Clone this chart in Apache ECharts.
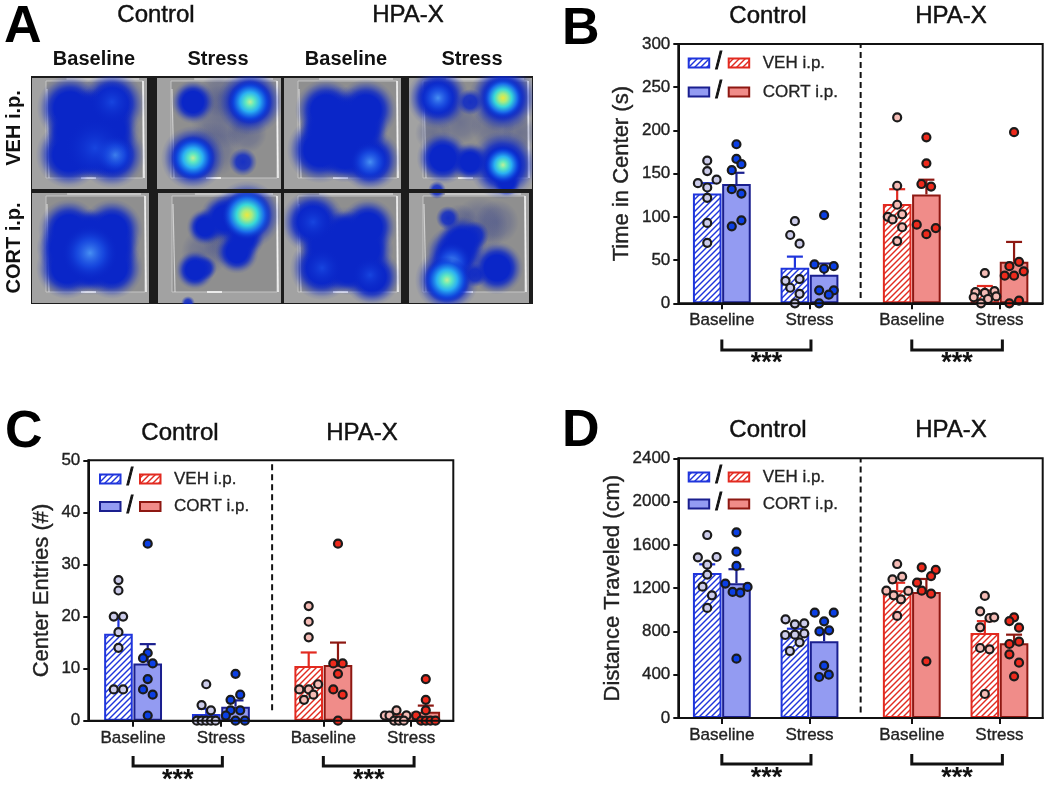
<!DOCTYPE html>
<html><head><meta charset="utf-8">
<script src="https://cdn.jsdelivr.net/npm/echarts@6/dist/echarts.min.js"></script>
<style>html,body{margin:0;padding:0;background:#fff}#c{width:1050px;height:787px}</style>
</head><body><div id="c"></div>
<script>
const groupNames = ['Control VEH Baseline','Control CORT Baseline','Control VEH Stress','Control CORT Stress','HPA-X VEH Baseline','HPA-X CORT Baseline','HPA-X VEH Stress','HPA-X CORT Stress'];
const barSlots = [0,1,3,4,6.5,7.5,9.5,10.5];
const tickSlots = [0.5,3.5,7,10];
const tickLabels = ['Baseline','Stress','Baseline','Stress'];

// Time in Center
const bMeans = [127,138,41,33,115,126,16,48];
const bTops  = [139,151,54,46,132,143,20,71];
const bValues = [
 [165,153,139,143,134,122,93,70],
 [184,167,161,154,132,127,96,89],
 [95,79,69,26,28,18,11,0],
 [102,45,40,43,15,15,10,0],
 [215,136,114,100,97,103,88,72],
 [192,162,138,135,91,87,80],
 [35,13,12,14,7,8,5,0],
 [198,43,48,32,32,37,0,3]];
const bSwarm = [
 [0,0,-.32,.32,0,0,0,0],
 [0,0,.17,-.16,-.16,.17,.17,-.16],
 [0,-.16,.16,-.32,.16,-.16,.16,0],
 [0,-.33,0,.33,-.17,.33,.16,-.17],
 [0,0,0,-.32,-.16,.17,.17,0],
 [0,0,-.17,.16,-.33,.32,0],
 [0,-.32,0,.33,-.38,.39,.11,-.13],
 [0,-.16,.17,-.32,0,.33,-.16,.17]];

// Center Entries
const cMeans = [16.7,11,1.3,2.7,10.5,10.7,0.9,1.7];
const cTops  = [20,14.7,2.3,3.9,13.1,15,1.2,2.9];
const cValues = [
 [27,25,20,20,17,14,6,6],
 [34,13,12,11,8,6,5,1],
 [7,3,2,0,0,0,0,0],
 [9,5,4,2,2,1,0,0],
 [22,19,16,7,6,6,5,4],
 [34,11,11,9,6,5,0],
 [2,1,1,1,1,0,0,0],
 [8,4,2,1,0,0,0,0]];
const cSwarm = [
 [0,0,-.16,.16,0,0,-.16,.16],
 [0,0,-.16,.17,0,-.16,.17,0],
 [0,-.16,.16,-.32,-.16,0,.16,.32],
 [0,.16,-.17,-.17,.16,-.33,0,.32],
 [0,0,0,.32,-.32,0,.16,-.16],
 [0,-.16,.16,0,-.16,.16,0],
 [0,-.4,-.24,.34,.34,-.08,.08,.25],
 [0,0,0,-.33,-.16,0,.16,.33]];

// Distance Traveled
const dMeans = [1340,1245,790,710,1180,1165,785,690];
const dTops  = [1420,1375,825,805,1250,1285,895,770];
const dValues = [
 [1691,1485,1488,1417,1325,1214,1134,1017],
 [1716,1537,1405,1242,1211,1165,1158,548],
 [912,866,875,767,770,782,699,619],
 [973,973,893,801,810,484,400,379],
 [1423,1282,1306,1177,1174,1134,1097,943],
 [1392,1368,1312,1251,1177,1149,524],
 [1128,986,924,930,838,647,635,222],
 [930,896,835,705,684,588,511,385]];
const dSwarm = [
 [0,-.32,.32,0,0,-.16,.16,0],
 [0,0,0,-.38,.38,-.13,.13,0],
 [-.32,0,.32,-.33,0,.32,.16,-.17],
 [-.32,.33,0,-.16,.17,0,.16,-.17],
 [0,-.16,.17,-.37,.38,-.12,.13,0],
 [-.16,.32,.16,-.32,-.16,.16,0],
 [0,-.16,.16,.32,-.16,-.16,.16,0],
 [0,-.16,.17,.17,-.16,-.16,.17,0]];

// Panel A: heat-map photographs, blobs as [x, y, radius, kind]
const tiles = [
 [32,78,147,189],[157,78,281,189],[284,78,401,189],[409,78,532,189],
 [32,193,149,303],[158,193,281,303],[284,193,401,303],[409,193,529,303]];
const blobs = [
 [70,108,29,'b'],[112,104,29,'b'],[69,155,29,'b'],[112,155,29,'b'],[90,132,38,'b'],[90,112,20,'b'],[90,153,24,'b'],[70,132,22,'b'],[111,130,25,'b'],[112,102,22,'l'],[115,155,20,'m'],[95,148,30,'l'],
 [193,102,19,'b'],[250,102,29,'b'],[250,102,22,'h'],[193,158,28,'b'],[193,158,22,'h'],[243,162,14,'f'],[247,133,20,'g'],[222,117,32,'g'],[212,150,28,'g'],[220,95,22,'g'],
 [326,110,27,'b'],[366,110,27,'b'],[320,150,29,'b'],[370,160,27,'b'],[343,130,38,'b'],[345,116,19,'b'],[345,155,24,'b'],[324,130,21,'b'],[363,130,22,'b'],[370,162,20,'m'],
 [438,98,27,'b'],[438,98,19,'m'],[503,98,30,'b'],[503,98,21,'y'],[470,102,13,'f'],[443,158,23,'b'],[503,165,30,'b'],[503,165,19,'h'],[470,162,17,'b'],[507,183,12,'b'],[437,190,9,'f'],[460,122,22,'g'],[493,127,22,'g'],[520,133,18,'g'],[433,133,18,'g'],
 [69,230,27,'b'],[112,230,27,'b'],[67,268,27,'b'],[112,268,27,'b'],[90,252,38,'b'],[90,232,20,'b'],[90,270,19,'b'],[64,248,24,'b'],[113,248,24,'b'],[90,253,28,'m'],
 [247,215,30,'b'],[225,218,22,'b'],[247,215,25,'y'],[238,216,17,'l'],[205,227,16,'b'],[237,252,19,'b'],[244,238,18,'b'],[195,270,17,'b'],[205,268,12,'f'],[225,242,22,'g'],[205,252,24,'g'],[215,225,20,'g'],
 [313,222,28,'b'],[313,222,20,'l'],[368,227,25,'b'],[322,268,28,'b'],[372,277,25,'b'],[345,248,36,'b'],[345,232,19,'b'],[348,270,22,'b'],[324,245,21,'b'],[366,250,24,'b'],[322,268,20,'l'],[370,275,18,'l'],
 [447,280,28,'b'],[455,255,26,'b'],[462,242,22,'b'],[475,235,14,'f'],[452,262,20,'m'],[447,280,23,'h'],[497,268,23,'b'],[475,275,12,'f'],[448,218,12,'f'],[480,225,28,'g'],[497,222,22,'g'],[460,222,18,'g'],
 [188,303,7,'f']];

const NAVY='#1a1f8f', BLUE='#1f35dc', RED='#e22a20', DRED='#8e1812';
const BLUEFILL='#939bf2', REDFILL='#f08c89';

function hatch(col){
  const n=6, k=document.createElement('canvas'); k.width=k.height=n;
  const g=k.getContext('2d'); g.fillStyle='#fff'; g.fillRect(0,0,n,n);
  g.strokeStyle=col; g.lineWidth=1.4;
  [[-n,n,n,-n],[0,n,n,0],[0,2*n,2*n,0]].forEach(s=>{g.beginPath();g.moveTo(s[0],s[1]);g.lineTo(s[2],s[3]);g.stroke();});
  return {image:k,repeat:'repeat'};
}
const BH=hatch(BLUE), RH=hatch(RED);
const styles=[
 {name:'Control VEH i.p.',idx:[0,2],fill:BH,line:BLUE,dot:'#ccccea'},
 {name:'Control CORT i.p.',idx:[1,3],fill:BLUEFILL,line:NAVY,dot:'#0b3fe4'},
 {name:'HPA-X VEH i.p.',idx:[4,6],fill:RH,line:RED,dot:'#f5bcb6'},
 {name:'HPA-X CORT i.p.',idx:[5,7],fill:REDFILL,line:DRED,dot:'#ee2a1c'}];

const grids=[
 {left:0,top:0,width:540,height:320},
 {left:678.3,top:44,width:364.4,height:259.3},
 {left:88.3,top:460.3,width:365,height:260.4},
 {left:678.3,top:458.3,width:364.4,height:259.7}];

const thick={textBorderColor:'#222',textBorderWidth:.35};
const xAxes=[{gridIndex:0,type:'value',min:0,max:540,show:false},
 ...[-.99,-1.03,-.99].map((m,i)=>({gridIndex:i+1,type:'value',min:m,max:m+12.47,splitLine:{show:false},
   axisLine:{onZero:false,lineStyle:{color:'#111',width:2}},
   axisTick:{show:true,customValues:tickSlots,length:6,lineStyle:{color:'#111',width:2}},
   axisLabel:Object.assign({show:true,customValues:tickSlots,formatter:v=>tickLabels[tickSlots.indexOf(v)],margin:9,fontSize:17,color:'#222',fontFamily:'Liberation Sans'},thick)}))];
const yConf=[['Time in Center (s)',300,50,45],['Center Entries (#)',50,10,35],['Distance Traveled (cm)',2400,400,54]];
const yAxes=[{gridIndex:0,type:'value',min:0,max:320,inverse:true,show:false},
 ...yConf.map((c,i)=>({gridIndex:i+1,type:'value',min:0,max:c[1],interval:c[2],name:c[0],nameLocation:'middle',nameGap:c[3],
   nameTextStyle:Object.assign({fontSize:22,color:'#222',fontFamily:'Liberation Sans'},thick),splitLine:{show:false},
   axisLine:{show:true,onZero:false,lineStyle:{color:'#111',width:2}},
   axisTick:{show:true,length:5,lineStyle:{color:'#111',width:2}},
   axisLabel:Object.assign({margin:8,fontSize:17,color:'#222',fontFamily:'Liberation Sans',formatter:v=>String(v)},thick)}))];

const series=[];
// panel A
series.push({type:'custom',name:'Arena photo',xAxisIndex:0,yAxisIndex:0,silent:true,z:1,data:tiles,encode:{x:[0,2],y:[1,3]},
 renderItem(p,api){
  const a=api.coord([api.value(0),api.value(1)]),b=api.coord([api.value(2),api.value(3)]);
  const w=b[0]-a[0],h=b[1]-a[1],l=a[0]+14,r=b[0]-4,t=a[1]+3,u=b[1]-11;
  return {type:'group',children:[
   {type:'rect',shape:{x:a[0],y:a[1],width:w,height:h},style:{fill:'#a2a2a2'}},
   {type:'rect',shape:{x:l,y:t,width:r-l,height:u-t},style:{fill:'#8f8f8f',stroke:'#c4c4c4',lineWidth:1}},
   {type:'line',shape:{x1:l+1,y1:t+8,x2:l+3,y2:u},style:{stroke:'#e4e4e4',lineWidth:1.2,opacity:.75}},
   {type:'line',shape:{x1:r,y1:t,x2:r+1,y2:u},style:{stroke:'#f2f2f2',lineWidth:1.6}},
   {type:'line',shape:{x1:a[0]+w*.3,y1:a[1]+1,x2:b[0]-8,y2:a[1]+1},style:{stroke:'#e8e8e8',lineWidth:1.2}},
   {type:'line',shape:{x1:l+35,y1:u,x2:l+50,y2:u},style:{stroke:'#ffffff',lineWidth:1.5}}
  ]};
 }});
const BC='10,38,200';
const stops={
 b:[[0,`rgba(${BC},1)`],[.48,`rgba(${BC},1)`],[.62,`rgba(${BC},.8)`],[.76,`rgba(${BC},.42)`],[.89,`rgba(${BC},.12)`],[1,`rgba(${BC},0)`]],
 m:[[0,'rgba(75,150,245,.95)'],[.5,'rgba(30,90,235,.6)'],[1,`rgba(${BC},0)`]],
 l:[[0,'rgba(30,85,235,.65)'],[1,`rgba(${BC},0)`]],
 f:[[0,`rgba(${BC},.9)`],[.5,`rgba(${BC},.8)`],[.78,`rgba(${BC},.3)`],[1,`rgba(${BC},0)`]],
 g:[[0,'rgba(35,50,140,.3)'],[.6,'rgba(35,50,140,.2)'],[1,'rgba(35,50,140,0)']],
 h:[[0,'#bff09a'],[.2,'#5fe8c0'],[.45,'#2ab0f2'],[.75,'rgba(15,75,225,.85)'],[1,`rgba(${BC},0)`]],
 y:[[0,'#eee83e'],[.2,'#a8ec80'],[.42,'#38d8d8'],[.68,'#1a6cea'],[1,`rgba(${BC},0)`]]};
Object.keys(stops).forEach(k=>{
 const grow=k==='b'?2.3:2;
 series.push({type:'scatter',name:'Heat '+k,xAxisIndex:0,yAxisIndex:0,silent:true,z:k==='g'?2:(k==='b'||k==='f'?3:4),clip:false,
  data:blobs.filter(o=>o[3]===k).map(o=>[o[0],o[1],o[2]]),
  symbolSize:v=>v[2]*grow,
  itemStyle:{opacity:1,color:{type:'radial',x:.5,y:.5,r:.5,colorStops:stops[k].map(s=>({offset:s[0],color:s[1]}))}}});
});

function panel(g,means,tops,vals,swarm,br,lineV){
 styles.forEach(s=>{
  series.push({type:'bar',name:s.name,stack:'bars'+g,xAxisIndex:g,yAxisIndex:g,barWidth:28.6,z:2,
   data:s.idx.map(i=>[barSlots[i],means[i]]),
   itemStyle:{color:s.fill,borderColor:s.line,borderWidth:2}});
  series.push({type:'custom',name:s.name+' SEM',xAxisIndex:g,yAxisIndex:g,z:3,
   data:s.idx.map(i=>[barSlots[i],means[i],tops[i]]),encode:{x:0,y:[1,2]},
   renderItem(p,api){
    const a=api.coord([api.value(0),api.value(1)]),b=api.coord([api.value(0),api.value(2)]);
    const st={stroke:s.line,lineWidth:2.2};
    return {type:'group',children:[
     {type:'line',shape:{x1:a[0],y1:a[1],x2:b[0],y2:b[1]},style:st},
     {type:'line',shape:{x1:b[0]-8,y1:b[1],x2:b[0]+8,y2:b[1]},style:st}]};
   }});
  const pts=[];
  s.idx.forEach(i=>vals[i].forEach((v,j)=>pts.push([barSlots[i]+swarm[i][j],v])));
  series.push({type:'scatter',name:s.name+' points',xAxisIndex:g,yAxisIndex:g,z:4,symbolSize:8,clip:false,data:pts,
   itemStyle:{color:s.dot,borderColor:'#1b1b1b',borderWidth:2.2,opacity:1}});
 });
 series.push({type:'line',name:'Divider',xAxisIndex:g,yAxisIndex:g,z:2,symbol:'none',silent:true,
  data:[[5.25,lineV[0]],[5.25,lineV[1]]],lineStyle:{color:'#111',width:2,type:[6,4]}});
 series.push({type:'custom',name:'Significance',xAxisIndex:g,yAxisIndex:g,z:5,silent:true,clip:false,
  data:[[.5,3.55,br[0],br[1],br[2]],[7,10.1,br[0],br[1],br[2]]],encode:{x:[0,1],y:[2,3]},
  renderItem(p,api){
   const a=api.coord([api.value(0),api.value(3)]),b=api.coord([api.value(1),api.value(2)]),t=api.coord([api.value(0),api.value(4)]);
   return {type:'group',children:[
    {type:'polyline',shape:{points:[[a[0],a[1]],[a[0],b[1]],[b[0],b[1]],[b[0],a[1]]]},style:{fill:'none',stroke:'#111',lineWidth:3}},
    {type:'text',style:{x:(a[0]+b[0])/2,y:t[1],text:'***',fill:'#111',fontSize:27,fontWeight:'bold',fontFamily:'Liberation Sans',textAlign:'center',textVerticalAlign:'middle'}}]};
  }});
}
panel(1,bMeans,bTops,bValues,bSwarm,[-54,-42,-70],[6,300]);
panel(2,cMeans,cTops,cValues,cSwarm,[-8.7,-6.8,-11.5],[2,50]);
panel(3,dMeans,dTops,dValues,dSwarm,[-425,-333,-555],[50,2400]);

// frames and text
const txt=(t,x,y,o)=>({type:'text',x,y,z:20,style:Object.assign({text:t,textAlign:'center',textVerticalAlign:'middle',fill:'#111',fontFamily:'Liberation Sans',fontSize:24,stroke:'#111',lineWidth:.45},o||{})});
const bold={fontWeight:'bold',stroke:null,lineWidth:0};
const head=(l,lx,ly,c1,c2,y)=>[txt(l,lx,ly,Object.assign({fontSize:52,fill:'#000',textAlign:'left'},bold)),txt('Control',c1,y),txt('HPA-X',c2,y)];
const mask=(x,y,w,h,f)=>({type:'rect',z:9,shape:{x,y,width:w,height:h},style:{fill:f}});
const g=[
 {type:'rect',z:0,shape:{x:31,y:76,width:502,height:228},style:{fill:'#1c1c1c'}},
 mask(25,62,520,14,'#fff'),mask(533,62,12,250,'#fff'),mask(25,304,520,12,'#fff'),mask(25,62,6,250,'#fff'),
 mask(147,76,10,113,'#1c1c1c'),mask(149,193,9,111,'#1c1c1c'),mask(401,76,8,228,'#1c1c1c'),mask(281,76,3,228,'#1c1c1c'),mask(31,189,502,4,'#1c1c1c'),
 ...head('A',4,28,156,408,15),...head('B',562,30,768,951,16),...head('C',5,433,180,362,433),...head('D',562,432,768,951,430)];
[[94,'Baseline'],[218,'Stress'],[346,'Baseline'],[472,'Stress']].forEach(o=>g.push(txt(o[1],o[0],59,Object.assign({fontSize:20},bold))));
g.push(Object.assign(txt('VEH i.p.',0,0,Object.assign({fontSize:20},bold)),{x:14,y:128,rotation:Math.PI/2}));
g.push(Object.assign(txt('CORT i.p.',0,0,Object.assign({fontSize:20},bold)),{x:14,y:248,rotation:Math.PI/2}));
function legend(x,y1,y2){
 const sw=(dx,y,f,l)=>({type:'rect',z:20,shape:{x:x+dx,y:y-4.5,width:20.5,height:9},style:{fill:f,stroke:l,lineWidth:2}});
 g.push(sw(0,y1,BH,BLUE),sw(40,y1,RH,RED),sw(0,y2,BLUEFILL,NAVY),sw(40,y2,REDFILL,DRED));
 const sl={fontSize:23,lineWidth:1};
 g.push(txt('/',x+30,y1,sl),txt('/',x+30,y2,sl));
 const lb={fontSize:17,textAlign:'left',fill:'#222',stroke:'#222',lineWidth:.3};
 g.push(txt('VEH i.p.',x+74,y1,lb),txt('CORT i.p.',x+74,y2,lb));
}
legend(688.7,63,92);legend(100,479,506.5);legend(688.7,477,504);
[1,2,3].forEach(i=>{const q=grids[i];g.push({type:'rect',z:10,shape:{x:q.left,y:q.top,width:q.width,height:q.height},style:{fill:'none',stroke:'#111',lineWidth:2}});});

const chart=echarts.init(document.getElementById('c'),null,{renderer:'canvas'});
chart.setOption({animation:false,backgroundColor:'#fff',tooltip:{show:false},legend:{show:false},
 grid:grids,xAxis:xAxes,yAxis:yAxes,series,graphic:{elements:g}});
</script></body></html>
